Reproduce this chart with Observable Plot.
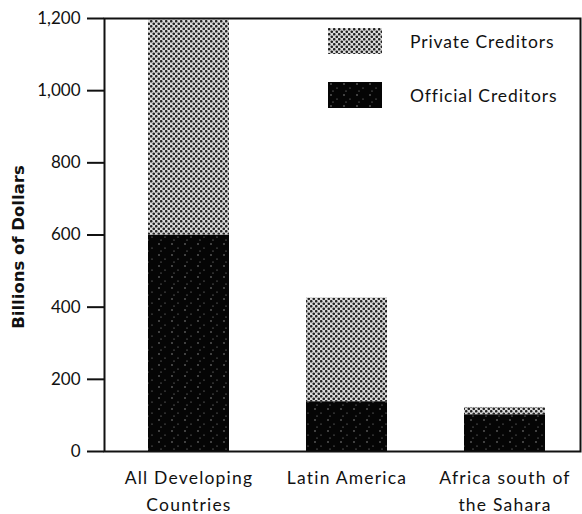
<!DOCTYPE html>
<html>
<head>
<meta charset="utf-8">
<script src="https://cdn.jsdelivr.net/npm/d3@7"></script>
<script src="https://cdn.jsdelivr.net/npm/@observablehq/plot@0.6"></script>
<style>
  body { margin: 0; background: #fff; }
  #wrap { position: relative; width: 582px; height: 514px; font-family: Lato, "Open Sans", sans-serif; }
  .lg-item { position: absolute; display: flex; align-items: center; font-size: 17.5px; letter-spacing: 0.9px; color: #111; }
  .lg-item svg { margin-right: 28px; }
</style>
</head>
<body>
<svg width="0" height="0" style="position:absolute">
  <defs>
    <pattern id="priv" width="5" height="5" patternUnits="userSpaceOnUse">
      <rect width="5" height="5" fill="#dcdcdc"/>
      <circle cx="1.25" cy="1.25" r="1.3" fill="#222"/>
      <circle cx="3.75" cy="3.75" r="1.3" fill="#222"/>
    </pattern>
    <pattern id="off" width="13" height="11" patternUnits="userSpaceOnUse">
      <rect width="13" height="11" fill="#050505"/>
      <circle cx="3" cy="2" r="0.7" fill="#aaa"/>
      <circle cx="9" cy="6" r="0.6" fill="#999"/>
      <circle cx="5" cy="9" r="0.5" fill="#bbb"/>
    </pattern>
  </defs>
</svg>
<div id="wrap"></div>
<script>
const regions = ["All Developing\nCountries", "Latin America", "Africa south of\nthe Sahara"];
const seriesNames = ["Official Creditors", "Private Creditors"];
const officialValues = [600, 138, 102];
const privateValues = [595, 287, 20];
const yTicks = [0, 200, 400, 600, 800, 1000, 1200];
const legendLabels = ["Private Creditors", "Official Creditors"];

const rows = [];
regions.forEach((r, i) => rows.push({region: r, series: seriesNames[0], value: officialValues[i]}));
regions.forEach((r, i) => rows.push({region: r, series: seriesNames[1], value: privateValues[i]}));

const fillFor = {"Official Creditors": "url(#off)", "Private Creditors": "url(#priv)"};

const chart = Plot.plot({
  width: 582,
  height: 514,
  marginLeft: 104,
  marginRight: 2,
  marginTop: 18,
  marginBottom: 63,
  style: {fontFamily: "Lato, 'Open Sans', sans-serif", fontSize: "17px", color: "#111", background: "white"},
  x: {domain: regions, range: [147, 546], paddingInner: 0.49, paddingOuter: 0, label: null},
  y: {domain: [0, 1200], label: "Billions of Dollars", labelAnchor: "center", labelOffset: 92, labelArrow: "none"},
  color: {domain: seriesNames, range: seriesNames.map(s => fillFor[s])},
  marks: [
    Plot.barY(rows, {x: "region", y: "value", fill: "series"}),
    Plot.axisY({ticks: yTicks, tickFormat: d3.format(","), tickSize: 17, tickPadding: 7, strokeWidth: 2, fontSize: 17, label: "Billions of Dollars", labelAnchor: "center", labelOffset: 92, labelArrow: "none"}),
    Plot.axisX({tickSize: 0, tickPadding: 13, lineHeight: 1.55, fontSize: 17.5, label: null}),
    Plot.frame({stroke: "#111", strokeWidth: 2})
  ]
});

const wrap = document.getElementById("wrap");
wrap.appendChild(chart);
chart.querySelectorAll('[aria-label="y-axis label"] text').forEach(t => {
  t.setAttribute("font-weight", "bold");
  t.setAttribute("font-size", "16.5");
  t.setAttribute("font-family", "'DejaVu Sans', sans-serif");
  t.setAttribute("dx", "-12");
});
chart.querySelectorAll('[aria-label="x-axis tick label"] text').forEach(t => {
  t.setAttribute("letter-spacing", "1.2");
});

// legend
const legendFill = {"Private Creditors": "url(#priv)", "Official Creditors": "url(#off)"};
const legendTops = [28, 82];
legendLabels.forEach((lab, i) => {
  const item = document.createElement("div");
  item.className = "lg-item";
  item.style.left = "328px";
  item.style.top = legendTops[i] + "px";
  item.innerHTML = `<svg width="54" height="26"><rect width="54" height="26" fill="${legendFill[lab]}"/></svg><span>${lab}</span>`;
  wrap.appendChild(item);
});
</script>
</body>
</html>
